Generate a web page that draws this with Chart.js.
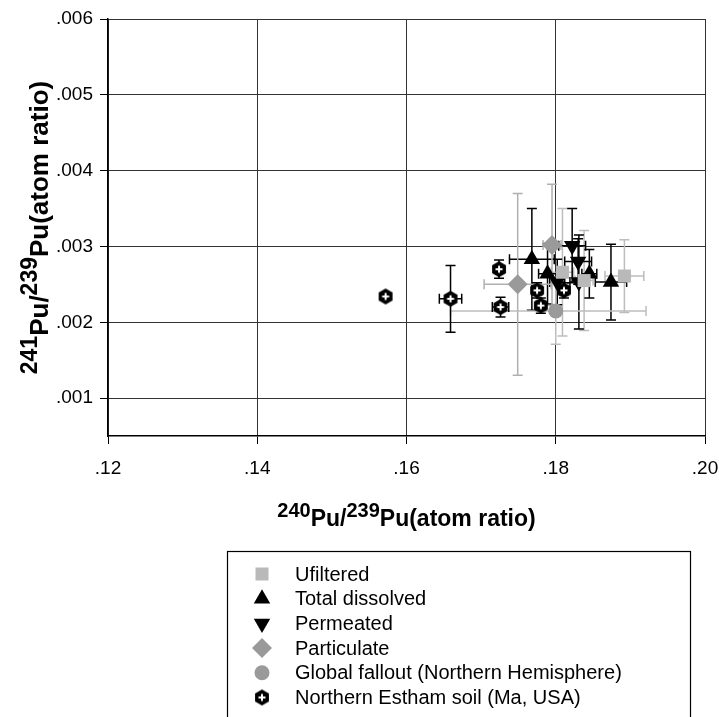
<!DOCTYPE html>
<html>
<head>
<meta charset="utf-8">
<script src="https://cdn.jsdelivr.net/npm/chart.js@4.4.1/dist/chart.umd.min.js"></script>
<style>
  html, body { margin: 0; padding: 0; background: #fff; }
  #wrap { width: 719px; height: 717px; position: relative; }
</style>
</head>
<body>
<div id="wrap"><canvas id="chart"></canvas></div>
<script>
// each point: [240Pu/239Pu, 241Pu/239Pu, x error, y error]
// an error is +-value, or [minus, plus] when it is lopsided
const unfiltered = [
  [0.1892, 0.00261, 0.0026, 0.00048],
  [0.1809, 0.00266, 0.0015, 0.00084],
  [0.1838, 0.00255, 0.0012, 0.00066]
];
const totalDissolved = [
  [0.1768, 0.00283, 0.0030, 0.00067],
  [0.1789, 0.00264, 0.0012, 0.00040],
  [0.1845, 0.00264, 0.0010, 0.00032],
  [0.1874, 0.00253, 0.0021, 0.00050]
];
const permeated = [
  [0.1822, 0.00301, 0.0018, 0.00049],
  [0.1830, 0.00280, 0.0018, 0.00030],
  [0.1831, 0.00253, 0.0012, 0.00062],
  [0.1802, 0.00253, 0.0010, 0.00030]
];
const particulate = [
  [0.1795, 0.00302, 0.0012, 0.00080],
  [0.1749, 0.00250, 0.0045, 0.00120]
];
const globalFallout = [
  [0.1800, 0.00215, [0.0141, 0.0121], 0.00044]
];
const esthamSoil = [
  [0.1572, 0.00234, 0.0003, 0.00005],
  [0.1659, 0.00231, 0.0015, 0.00044],
  [0.1724, 0.00270, 0.0004, 0.00012],
  [0.1726, 0.00220, 0.0011, 0.00013],
  [0.1775, 0.00242, 0.0006, 0.00010],
  [0.1780, 0.00222, 0.0006, 0.00010],
  [0.1811, 0.00242, 0.0006, 0.00010]
];
const seriesNames = ['Ufiltered', 'Total dissolved', 'Permeated', 'Particulate',
  'Global fallout (Northern Hemisphere)', 'Northern Estham soil (Ma, USA)'];
const xTicks = [0.12, 0.14, 0.16, 0.18, 0.20];
const yTicks = [0.001, 0.002, 0.003, 0.004, 0.005, 0.006];

const FONT = '"Liberation Sans", Arial, Helvetica, sans-serif';

function errPair(e) {
  return Array.isArray(e) ? e : [e, e];
}

function toPoints(rows) {
  return rows.map(r => ({ x: r[0], y: r[1], xErr: errPair(r[2]), yErr: errPair(r[3]) }));
}

// black hexagon with a white cross, used as a point image
function hexMarker(r) {
  const c = document.createElement('canvas');
  const s = Math.ceil(r * 2) + 2;
  c.width = c.height = s;
  const g = c.getContext('2d');
  const m = s / 2;
  g.beginPath();
  for (let i = 0; i < 6; i++) {
    const a = -Math.PI / 2 + i * Math.PI / 3;
    const px = m + r * Math.cos(a), py = m + r * Math.sin(a);
    i ? g.lineTo(px, py) : g.moveTo(px, py);
  }
  g.closePath();
  g.fillStyle = '#000';
  g.fill();
  g.fillStyle = '#fff';
  g.fillRect(m - 3.5, m - 1, 7, 2);
  g.fillRect(m - 1, m - 3.5, 2, 7);
  return c;
}
const hex = hexMarker(8);

const errorBars = {
  id: 'errorBars',
  beforeDatasetsDraw(chart) {
    const ctx = chart.ctx, xs = chart.scales.x, ys = chart.scales.y;
    const cap = 5;
    ctx.save();
    chart.data.datasets.forEach(ds => {
      ctx.strokeStyle = ds.errorColor;
      ctx.lineWidth = 1.5;
      ds.data.forEach(p => {
        const cx = xs.getPixelForValue(p.x), cy = ys.getPixelForValue(p.y);
        const x0 = xs.getPixelForValue(p.x - p.xErr[0]), x1 = xs.getPixelForValue(p.x + p.xErr[1]);
        const y0 = ys.getPixelForValue(p.y - p.yErr[0]), y1 = ys.getPixelForValue(p.y + p.yErr[1]);
        ctx.beginPath();
        ctx.moveTo(x0, cy); ctx.lineTo(x1, cy);
        ctx.moveTo(x0, cy - cap); ctx.lineTo(x0, cy + cap);
        ctx.moveTo(x1, cy - cap); ctx.lineTo(x1, cy + cap);
        ctx.moveTo(cx, y0); ctx.lineTo(cx, y1);
        ctx.moveTo(cx - cap, y0); ctx.lineTo(cx + cap, y0);
        ctx.moveTo(cx - cap, y1); ctx.lineTo(cx + cap, y1);
        ctx.stroke();
      });
    });
    ctx.restore();
  }
};

// axis titles with superscript mass numbers
function drawSupTitle(ctx, parts, x, y, bigSize, smallSize, rise) {
  const big = 'bold ' + bigSize + 'px ' + FONT, small = 'bold ' + smallSize + 'px ' + FONT;
  let w = 0;
  parts.forEach(p => { ctx.font = p[1] ? small : big; w += ctx.measureText(p[0]).width; });
  let cx = x - w / 2;
  ctx.textAlign = 'left';
  ctx.textBaseline = 'alphabetic';
  parts.forEach(p => {
    ctx.font = p[1] ? small : big;
    ctx.fillText(p[0], cx, p[1] ? y - rise : y);
    cx += ctx.measureText(p[0]).width;
  });
}

const axisTitles = {
  id: 'axisTitles',
  afterDraw(chart) {
    const ctx = chart.ctx, a = chart.chartArea;
    ctx.save();
    ctx.fillStyle = '#000';
    drawSupTitle(ctx, [['240', true], ['Pu/', false], ['239', true], ['Pu(atom ratio)', false]],
      (a.left + a.right) / 2, 526, 23, 20, 9);
    ctx.translate(48, (a.top + a.bottom) / 2);
    ctx.rotate(-Math.PI / 2);
    drawSupTitle(ctx, [['241', true], ['Pu/', false], ['239', true], ['Pu(atom ratio)', false]],
      0, 0, 26, 23, 11);
    ctx.restore();
  }
};

const boxLegend = {
  id: 'boxLegend',
  afterDraw(chart) {
    const ctx = chart.ctx;
    ctx.save();
    ctx.strokeStyle = '#000';
    ctx.lineWidth = 1.2;
    ctx.strokeRect(227.5, 551.5, 463, 220);
    ctx.font = '20px ' + FONT;
    ctx.textBaseline = 'middle';
    ctx.textAlign = 'left';
    chart.data.datasets.forEach((ds, i) => {
      const y = 574 + i * 24.7;
      ctx.fillStyle = ds.backgroundColor;
      Chart.helpers.drawPoint(ctx, {
        pointStyle: ds.pointStyle, radius: ds.pointRadius,
        rotation: ds.pointRotation || 0, borderWidth: 0
      }, 262, y);
      ctx.fillStyle = '#000';
      ctx.fillText(ds.label, 295, y + 1);
    });
    ctx.restore();
  }
};

function series(i, rows, style, radius, color, errColor, extra) {
  return Object.assign({
    label: seriesNames[i],
    data: toPoints(rows),
    pointStyle: style,
    pointRadius: radius,
    backgroundColor: color,
    borderColor: color,
    borderWidth: 0,
    errorColor: errColor,
    showLine: false
  }, extra || {});
}

new Chart(document.getElementById('chart'), {
  type: 'scatter',
  data: {
    datasets: [
      series(0, unfiltered, 'rect', 9.2, '#b9b9b9', '#bdbdbd'),
      series(1, totalDissolved, 'triangle', 9.5, '#000', '#000'),
      series(2, permeated, 'triangle', 9.5, '#000', '#000', { pointRotation: 180 }),
      series(3, particulate, 'rectRot', 10, '#9a9a9a', '#b0b0b0'),
      series(4, globalFallout, 'circle', 7.5, '#9a9a9a', '#bdbdbd'),
      series(5, esthamSoil, hex, 8, '#000', '#000')
    ]
  },
  options: {
    responsive: true,
    maintainAspectRatio: false,
    animation: false,
    events: [],
    layout: { padding: { left: 0, top: 19, right: 14, bottom: 0 } },
    plugins: { legend: { display: false }, tooltip: { enabled: false } },
    scales: {
      x: {
        type: 'linear',
        min: 0.12, max: 0.20,
        afterBuildTicks: s => { s.ticks = xTicks.map(v => ({ value: v })); },
        afterFit: s => { s.height = 281; s.paddingLeft = 0; s.paddingRight = 14; },
        ticks: {
          color: '#000', padding: 13,
          font: { family: FONT, size: 19 },
          callback: v => v.toFixed(2).replace(/^0/, '')
        },
        grid: { color: '#333', lineWidth: 1, tickColor: '#000', tickLength: 8 },
        border: { color: '#000', width: 1.5 }
      },
      y: {
        type: 'linear',
        min: 0.0005, max: 0.006,
        afterBuildTicks: s => { s.ticks = yTicks.map(v => ({ value: v })); },
        afterFit: s => { s.width = 108; },
        ticks: {
          color: '#000', padding: 7,
          font: { family: FONT, size: 19 },
          callback: v => v.toFixed(3).replace(/^0/, '')
        },
        grid: { color: '#333', lineWidth: 1, tickColor: '#000', tickLength: 8 },
        border: { color: '#000', width: 1.5 }
      }
    }
  },
  plugins: [errorBars, axisTitles, boxLegend]
});
</script>
</body>
</html>
